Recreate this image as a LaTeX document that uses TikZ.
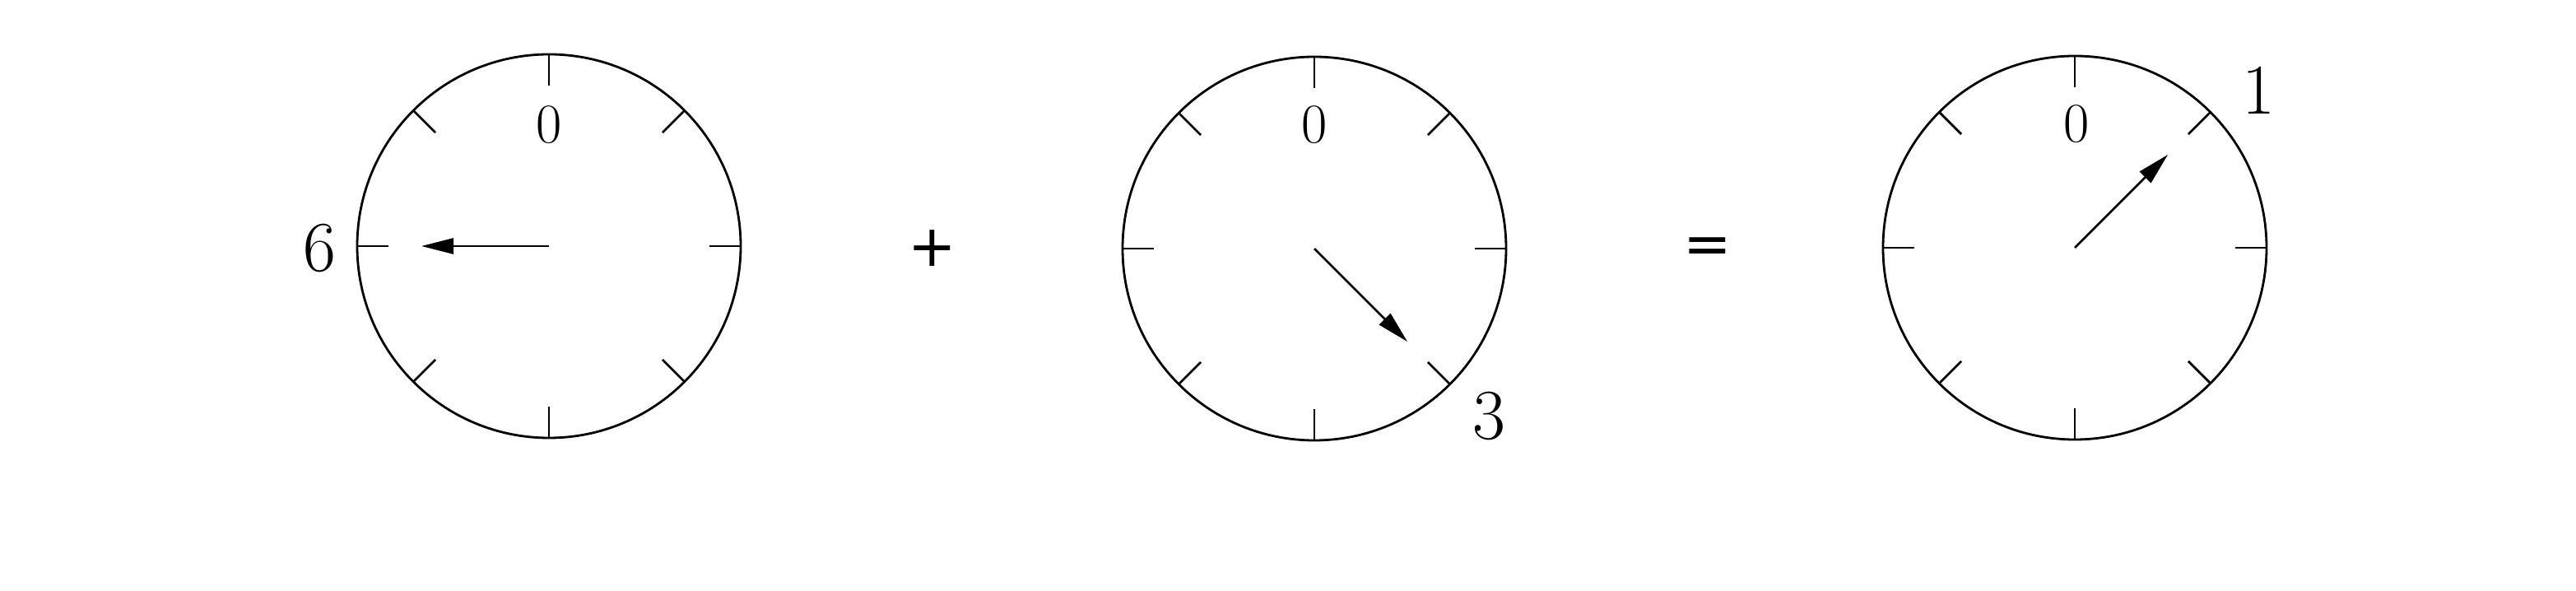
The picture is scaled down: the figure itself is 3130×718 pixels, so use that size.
\documentclass[tikz,border=0pt]{standalone}
\usepackage{fontspec}
\newfontfamily\djv{DejaVu Sans}
\usetikzlibrary{arrows.meta}
\begin{document}
\begin{tikzpicture}[x=0.25pt,y=0.25pt,
  rim/.style={line width=0.7pt},
  tickmark/.style={line width=0.7pt},
  hand/.style={line width=0.7pt,-{Triangle[length=9.75pt,width=4.75pt]}},
  bignum/.style={inner sep=0pt,font=\fontsize{21.7}{26}\selectfont},
  zeronum/.style={inner sep=0pt,font=\fontsize{17}{20}\selectfont},
  op/.style={inner sep=0pt,font=\djv\fontsize{17.5}{20}\selectfont}]
\useasboundingbox (0,0) rectangle (3130,718);
% clock 1
\begin{scope}[shift={(667,419)}]
  \coordinate (c1) at (0,0);
  \draw[rim] (c1) circle[radius=233];
  \foreach \a in {0,45,...,315} \draw[tickmark] (\a:233) -- (\a:195);
  \coordinate (h1) at (180:155);
  \draw[hand] (c1) -- (h1);
  \node[zeronum] (z1) at (0,147) {0};
\end{scope}
\node[bignum] (l6) at (388,416) {6};
% plus
\node[op] (plus) at (1133,416) {+};
% clock 2
\begin{scope}[shift={(1597,416)}]
  \coordinate (c2) at (0,0);
  \draw[rim] (c2) circle[radius=233];
  \foreach \a in {0,45,...,315} \draw[tickmark] (\a:233) -- (\a:195);
  \coordinate (h2) at (-45:160);
  \draw[hand] (c2) -- (h2);
  \node[zeronum] (z2) at (0,150) {0};
\end{scope}
\node[bignum] (l3) at (1809,212) {3};
% equals
\node[op] (eq) at (2075,413) {=};
% clock 3
\begin{scope}[shift={(2521,417)}]
  \coordinate (c3) at (0,0);
  \draw[rim] (c3) circle[radius=233];
  \foreach \a in {0,45,...,315} \draw[tickmark] (\a:233) -- (\a:195);
  \coordinate (h3) at (45:160);
  \draw[hand] (c3) -- (h3);
  \node[zeronum] (z3) at (2,150) {0};
\end{scope}
\node[bignum] (l1) at (2744,608) {1};
\end{tikzpicture}
\end{document}
